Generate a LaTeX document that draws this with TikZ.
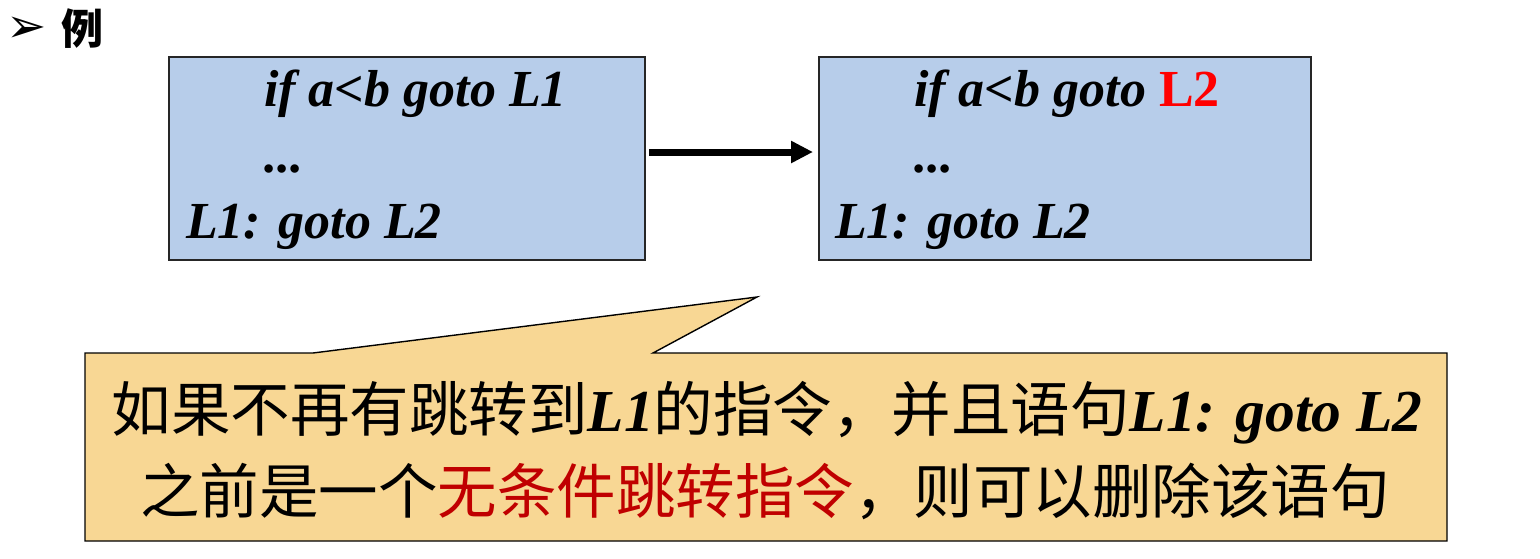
\documentclass[tikz,border=0pt]{standalone}
\usepackage{fontspec}
\setmainfont{Liberation Serif}
\newfontfamily\cjk{Noto Sans CJK SC}
\newfontfamily\dejavu{DejaVu Sans}
\definecolor{boxblue}{RGB}{183,205,234}
\definecolor{calloutfill}{RGB}{248,215,148}
\definecolor{darkred}{RGB}{192,0,0}
\definecolor{brightred}{RGB}{255,0,0}
\usetikzlibrary{arrows.meta}
\begin{document}
\begin{tikzpicture}[x=1pt,y=-1pt,
  codebox/.style={draw=black!85,line width=1.4pt,fill=boxblue},
  code/.style={anchor=base west,inner sep=0pt,font=\fontsize{52}{60}\selectfont\bfseries\itshape},
  cn/.style={anchor=center,inner sep=0pt,font=\fontsize{59.5}{66}\selectfont\cjk}]
\useasboundingbox (0,0) rectangle (1540,558);
\fill[white] (0,0) rectangle (1540,558);
% header
\node[anchor=center,inner sep=0pt,font=\fontsize{48}{54}\selectfont\dejavu] (bullet) at (27,30) {➢};
\node[anchor=center,inner sep=0pt,font=\fontsize{42}{48}\selectfont\cjk\bfseries] (li) at (82,29) {例};
% left box
\draw[codebox] (169,57) rectangle (645,260);
\coordinate (leftE) at (649,152);
\node[code] (l1) at (264,106) {if a<b goto L1};
\node[code] (l2) at (264,172) {...};
\node[code] (l3) at (186,238) {L1: goto L2};
% right box
\draw[codebox] (819,57) rectangle (1311,260);
\coordinate (rightW) at (813,152);
\node[code] (r1) at (914,106) {if a<b goto \textcolor{brightred}{\upshape L2}};
\node[code] (r2) at (914,172) {...};
\node[code] (r3) at (835,238) {L1: goto L2};
% arrow
\draw[line width=7pt,-{Triangle[length=22pt,width=21pt]}] (leftE) -- (rightW);
% callout
\draw[line width=1.4pt,fill=calloutfill,line join=miter]
  (85,353) -- (313,353) -- (757,297) -- (653,353) -- (1447,353) -- (1447,541) -- (85,541) -- cycle;
\node[cn] (c1) at (767,413) {如果不再有跳转到{\fontspec{Liberation Serif}\bfseries\itshape L1}的指令，并且语句{\fontspec{Liberation Serif}\bfseries\itshape L1: goto L2}};
\node[cn] (c2) at (765,491) {之前是一个\textcolor{darkred}{无条件跳转指令}，则可以删除该语句};
\end{tikzpicture}
\end{document}
